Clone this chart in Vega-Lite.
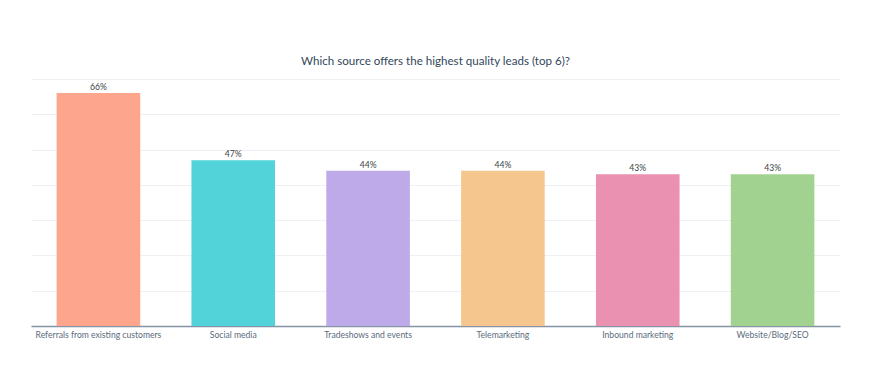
{
  "$schema": "https://vega.github.io/schema/vega-lite/v6.json",
  "autosize": "none",
  "width": 809,
  "height": 247,
  "padding": {"left": 31, "top": 79, "right": 33, "bottom": 58},
  "background": "#ffffff",
  "title": {
    "text": "Which source offers the highest quality leads (top 6)?",
    "font": "Lato",
    "fontSize": 11.6,
    "fontWeight": "normal",
    "color": "#33475b",
    "anchor": "middle",
    "offset": 11
  },
  "data": {
    "values": [
      {"source": "Referrals from existing customers", "share": 0.66, "color": "#fea58e"},
      {"source": "Social media", "share": 0.47, "color": "#51d3d9"},
      {"source": "Tradeshows and events", "share": 0.44, "color": "#bea9e9"},
      {"source": "Telemarketing", "share": 0.44, "color": "#f5c78e"},
      {"source": "Inbound marketing", "share": 0.43, "color": "#ea90b1"},
      {"source": "Website/Blog/SEO", "share": 0.43, "color": "#a2d28f"}
    ]
  },
  "encoding": {
    "x": {
      "field": "source",
      "type": "nominal",
      "sort": null,
      "scale": {"paddingInner": 0.38, "paddingOuter": 0.19},
      "axis": {
        "title": null,
        "labelAngle": 0,
        "ticks": false,
        "labelPadding": 4,
        "labelFont": "Lato",
        "labelFontSize": 8.6,
        "labelColor": "#5a6b7c",
        "domainColor": "#8595a6",
        "domainWidth": 1.5,
        "labelLimit": 200
      }
    },
    "y": {
      "field": "share",
      "type": "quantitative",
      "scale": {"domain": [0, 0.7], "nice": false},
      "axis": {
        "title": null,
        "labels": false,
        "ticks": false,
        "domain": false,
        "values": [0, 0.1, 0.2, 0.3, 0.4, 0.5, 0.6, 0.7],
        "gridColor": "#eef0f3",
        "gridWidth": 1
      }
    }
  },
  "layer": [
    {
      "mark": {"type": "bar"},
      "encoding": {
        "color": {"field": "color", "type": "nominal", "scale": null, "legend": null}
      }
    },
    {
      "mark": {"type": "text", "baseline": "bottom", "dy": -1, "font": "Lato", "fontSize": 8.6, "color": "#3a3f45"},
      "encoding": {
        "text": {"field": "share", "type": "quantitative", "format": ".0%"}
      }
    }
  ],
  "config": {
    "view": {"stroke": null}
  }
}
